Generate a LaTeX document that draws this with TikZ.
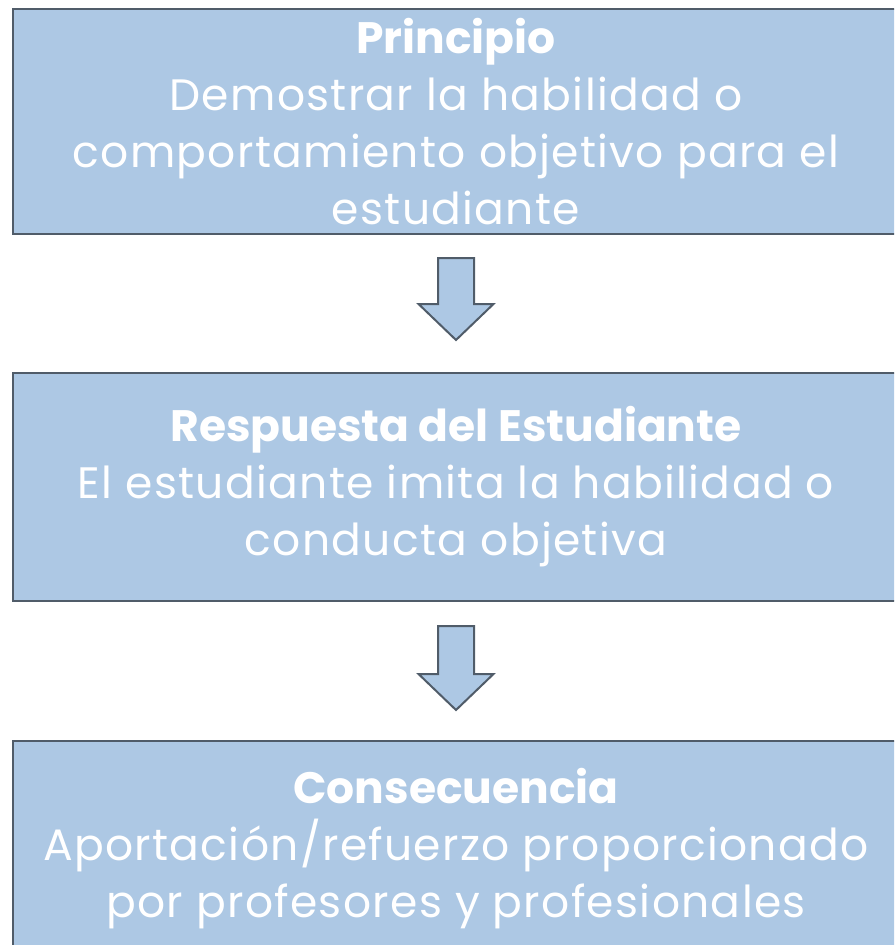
\documentclass[tikz,border=0pt]{standalone}
\usepackage{fontspec}
\setmainfont{Poppins}[LetterSpace=3,BoldFeatures={LetterSpace=0}]
\usepackage{xcolor}
\usetikzlibrary{calc}
\definecolor{cajaazul}{RGB}{173,200,228}
\definecolor{bordegris}{RGB}{80,92,105}

\begin{document}
\begin{tikzpicture}[x=0.75pt,y=-0.75pt,
    caja/.style={draw=bordegris,line width=1.5pt,fill=cajaazul,text=white,align=center,
        minimum width=664.5pt,inner sep=0pt,font=\fontsize{33pt}{42.75pt}\selectfont},
    flecha/.style={draw=bordegris,line width=1.5pt,fill=cajaazul,line join=miter}]
    \useasboundingbox (0,0) rectangle (894,945);
    \clip (0,0) rectangle (894,945);
    \node[caja,minimum height=168.75pt] (principio) at (456,121.5)
        {\textbf{Principio}\\Demostrar la habilidad o\\comportamiento objetivo para el\\estudiante};
    \node[caja,minimum height=171pt] (respuesta) at (456,487)
        {\textbf{Respuesta del Estudiante}\\El estudiante imita la habilidad o\\conducta objetiva};
    \node[caja,minimum height=162pt] (consecuencia) at (456,849)
        {\textbf{Consecuencia}\\Aportación/refuerzo proporcionado\\por profesores y profesionales};
    % flechas entre cajas
    \path (principio.south) ++(0,23) coordinate (f1);
    \path (respuesta.south) ++(0,24) coordinate (f2);
    \draw[flecha] (f1) ++(-18,0) -- ++(36,0) -- ++(0,46) -- ++(19.5,0) -- ++(-37.5,36) -- ++(-37.5,-36) -- ++(19.5,0) -- cycle;
    \draw[flecha] (f2) ++(-18,0) -- ++(36,0) -- ++(0,48) -- ++(19.5,0) -- ++(-37.5,36) -- ++(-37.5,-36) -- ++(19.5,0) -- cycle;
\end{tikzpicture}
\end{document}
